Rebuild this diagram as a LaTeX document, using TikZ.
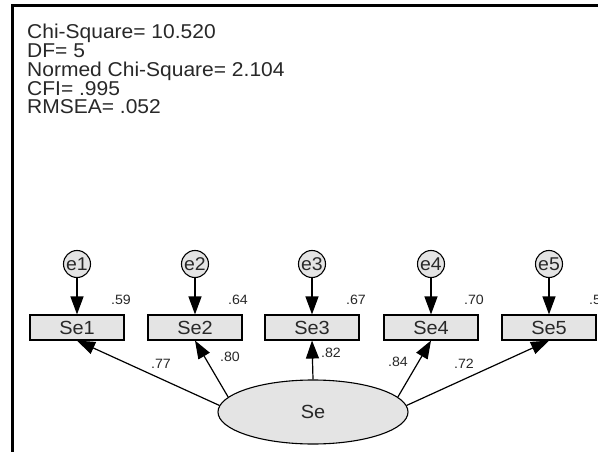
\documentclass[tikz,border=0pt]{standalone}
\usepackage{fontspec}
\setmainfont{Liberation Sans}[FakeStretch=1.05]
\usepackage{tikz}
\usetikzlibrary{arrows.meta,shapes.geometric}

\definecolor{fillgray}{RGB}{228,228,228}
\definecolor{textgray}{RGB}{40,40,40}

\begin{document}
\begin{tikzpicture}[x=1pt,y=-1pt,
    obs/.style={draw, line width=1.1pt, fill=fillgray, minimum width=94pt, minimum height=25pt,
      inner sep=0pt, text=textgray, font=\fontsize{19}{20}\selectfont},
    err/.style={circle, draw, line width=1.1pt, fill=fillgray, minimum size=27pt, inner sep=0pt,
      text=textgray, font=\fontsize{18.5}{20}\selectfont},
    lat/.style={ellipse, draw, line width=1.1pt, fill=fillgray, minimum width=190pt,
      minimum height=64pt, inner sep=0pt, text=textgray, font=\fontsize{19}{20}\selectfont},
    path/.style={line width=1.2pt, -{Triangle[length=18pt,width=13pt]}},
    coef/.style={inner sep=0pt, text=textgray, font=\fontsize{13.5}{14}\selectfont}]
          \useasboundingbox (0,0) rectangle (598,452);
          \fill[white] (0,0) rectangle (598,452);
          \draw[line width=3pt] (12.5,452) -- (12.5,6) -- (598,6);

          % Fit statistics
          \node[anchor=north west, align=left, inner sep=0pt, text=textgray,
            font=\fontsize{20}{18.8}\selectfont] (fit) at (27,24)
            {Chi-Square= 10.520\\DF= 5\\Normed Chi-Square= 2.104\\CFI= .995\\RMSEA= .052};

          % Latent factor
          \node[lat] (se) at (313,412) {Se};

          % Indicators
          \node[obs] (se1) at (77,327.5) {Se1};
          \node[obs] (se2) at (195,327.5) {Se2};
          \node[obs] (se3) at (312,327.5) {Se3};
          \node[obs] (se4) at (431,327.5) {Se4};
          \node[obs] (se5) at (549,327.5) {Se5};

          % Error terms
          \node[err] (e1) at (77,264) {e1};
          \node[err] (e2) at (195,264) {e2};
          \node[err] (e3) at (312,264) {e3};
          \node[err] (e4) at (431,264) {e4};
          \node[err] (e5) at (549,264) {e5};

          \draw[path] (e1) -- (se1);
          \draw[path] (e2) -- (se2);
          \draw[path] (e3) -- (se3);
          \draw[path] (e4) -- (se4);
          \draw[path] (e5) -- (se5);

          % Squared multiple correlations
          \node[coef] (r1) at (121,300) {.59};
          \node[coef] (r2) at (238,300) {.64};
          \node[coef] (r3) at (356,300) {.67};
          \node[coef] (r4) at (474,300) {.70};
          \node[coef] (r5) at (599,300) {.52};

          % Loadings
          \draw[path] (se.176) -- (se1.south);
          \draw[path] (se.170) -- (se2.south);
          \draw[path] (se.90) -- (se3.south);
          \draw[path] (se.10) -- (se4.south);
          \draw[path] (se.4) -- (se5.south);

          \node[coef] (l1) at (161,364) {.77};
          \node[coef] (l2) at (230,357) {.80};
          \node[coef] (l3) at (331,353) {.82};
          \node[coef] (l4) at (398,362) {.84};
          \node[coef] (l5) at (464,364) {.72};
        \end{tikzpicture}
\end{document}
